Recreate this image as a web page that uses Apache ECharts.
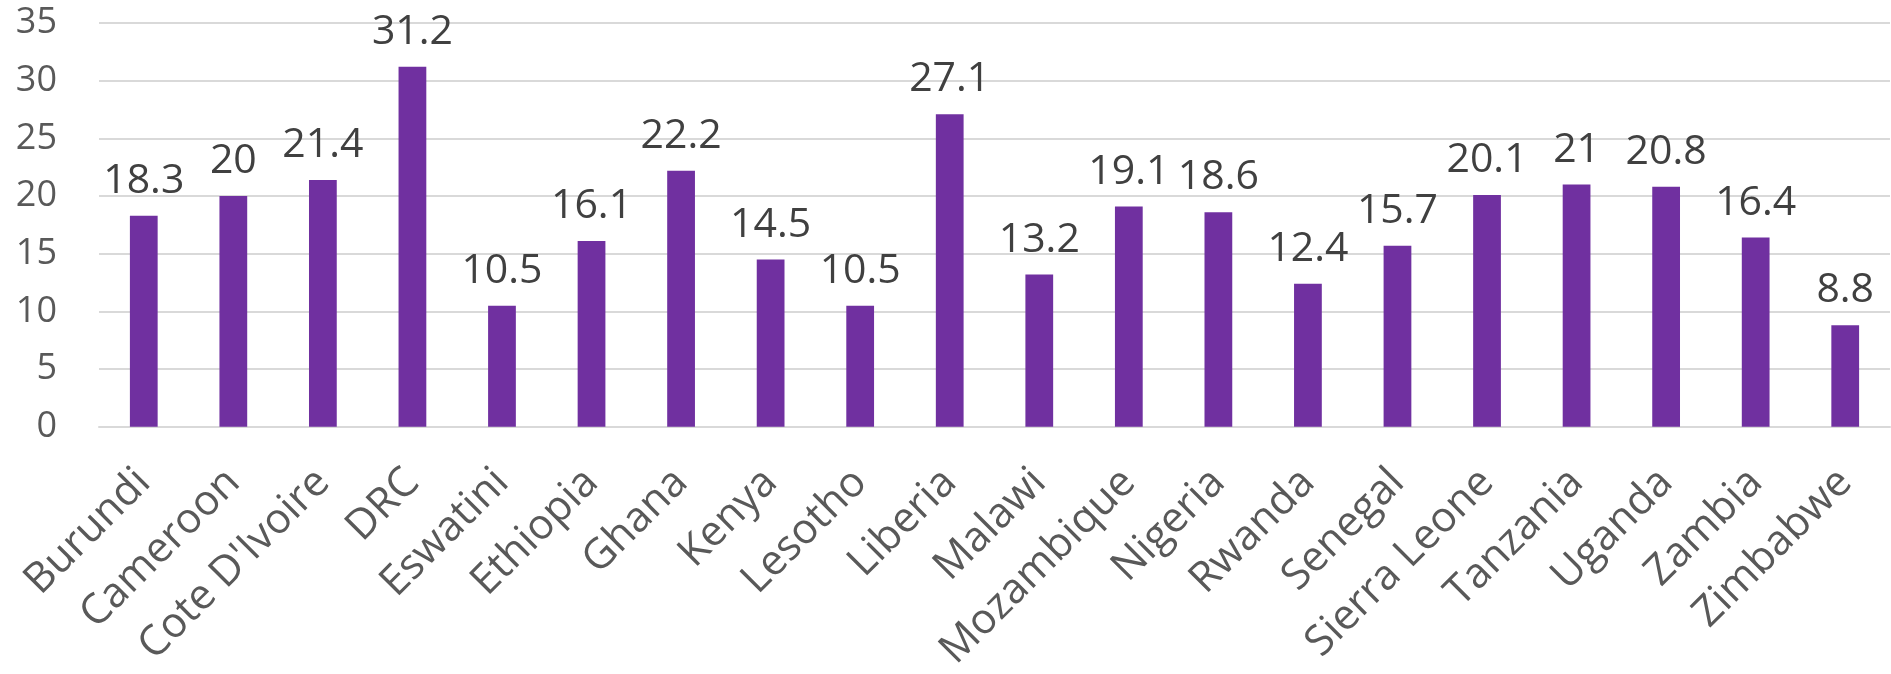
<!DOCTYPE html>
<html><head><meta charset="utf-8">
<script src="https://cdn.jsdelivr.net/npm/echarts@6/dist/echarts.min.js"></script>
<style>html,body{margin:0;padding:0;background:#fff}#c{width:1891px;height:674px}</style>
</head><body><div id="c"></div>
<script>
const categories = ["Burundi","Cameroon","Cote D'Ivoire","DRC","Eswatini","Ethiopia","Ghana","Kenya","Lesotho","Liberia","Malawi","Mozambique","Nigeria","Rwanda","Senegal","Sierra Leone","Tanzania","Uganda","Zambia","Zimbabwe"];
const values = [18.3,20,21.4,31.2,10.5,16.1,22.2,14.5,10.5,27.1,13.2,19.1,18.6,12.4,15.7,20.1,21,20.8,16.4,8.8];
const yTicks = {min:0, max:35, interval:5};

const chart = echarts.init(document.getElementById('c'));
chart.setOption({
  animation:false,
  grid:{left:99, right:1, top:23, bottom:243},
  xAxis:{type:'category', data:categories,
    axisLine:{lineStyle:{color:'#d9d9d9', width:2}},
    axisTick:{show:false},
    axisLabel:{rotate:45, interval:0, margin:49, color:'#595959', fontFamily:'Open Sans', fontSize:42}},
  yAxis:{type:'value', min:yTicks.min, max:yTicks.max, interval:yTicks.interval,
    axisLine:{show:false}, axisTick:{show:false},
    splitLine:{lineStyle:{color:'#d9d9d9', width:2}},
    axisLabel:{margin:42, color:'#595959', fontFamily:'Open Sans', fontSize:36}},
  series:[{type:'bar', data:values, barWidth:'31%',
    itemStyle:{color:'#7030A0'},
    label:{show:true, position:'top', distance:14, color:'#404040', fontFamily:'Open Sans', fontSize:41}}]
});
</script></body></html>
